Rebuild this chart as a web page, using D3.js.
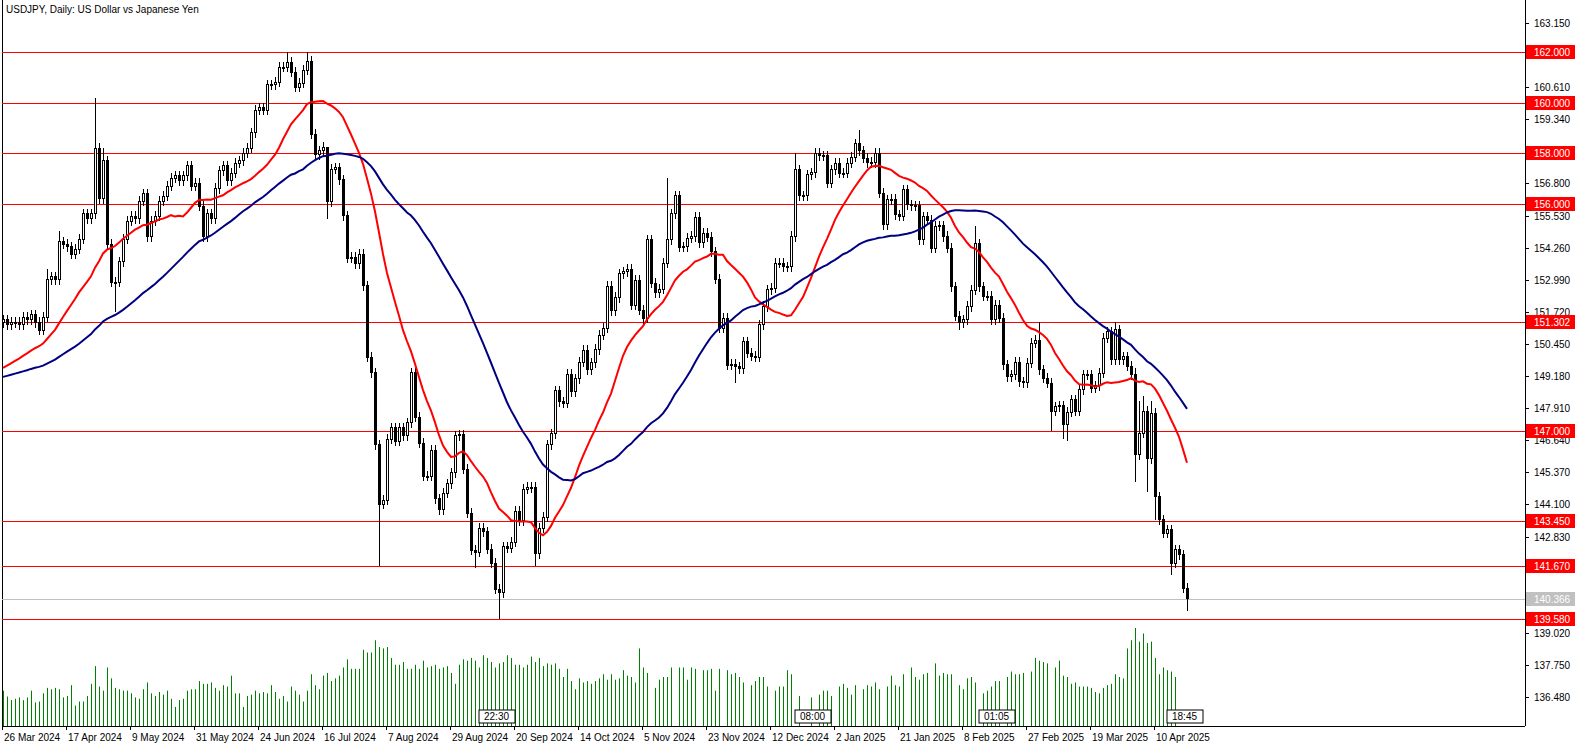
<!DOCTYPE html>
<html><head><meta charset="utf-8">
<script src="https://cdn.jsdelivr.net/npm/d3@7"></script>
<style>body{margin:0;background:#fff}svg{display:block}text{font-family:"Liberation Sans",Arial,sans-serif;font-size:10px}</style>
</head><body><svg id="c" width="1586" height="750"></svg>
<script>
const closes=[151.4,151.2,151.3,151.3,151.2,151.5,151.4,151.6,151.3,151.0,151.5,
153.0,153.1,153.0,154.5,154.4,154.3,154.0,154.2,154.6,155.6,155.4,155.6,
158.2,156.2,157.7,154.4,152.9,152.9,153.7,154.6,155.3,155.5,155.4,156.1,156.4,
154.7,155.3,155.5,156.1,156.3,156.7,157.0,157.1,156.9,157.1,157.5,156.7,156.8,
155.9,154.7,155.6,155.4,156.6,157.3,157.5,156.9,157.2,157.6,157.7,158.0,158.2,
158.8,159.7,159.8,159.7,160.7,160.7,160.8,161.4,161.4,161.6,161.2,160.6,
160.77,161.28,161.63,158.75,157.94,158.09,158.24,156.07,157.36,157.43,156.95,155.53,153.85,153.88,153.63,153.99,152.75,149.92,149.31,146.46,144.11,144.26,146.68,147.14,146.6,147.14,146.82,147.33,149.31,147.55,146.53,145.21,145.21,146.24,144.33,143.9,144.55,144.92,145.36,146.82,146.85,145.5,143.75,142.29,142.21,143.16,143.02,142.32,141.77,140.75,140.6,142.43,142.36,142.61,143.82,143.45,144.7,144.77,144.77,142.14,143.16,143.6,
146.46,146.9,148.6,148.16,148.1,149.26,148.56,149.08,149.72,150.21,149.44,149.7,150.23,150.8,151.07,152.74,151.77,152.29,153.22,153.31,153.4,151.99,152.98,151.79,151.46,154.57,152.85,152.48,152.61,153.64,154.57,155.6,156.31,154.28,154.3,154.63,154.7,155.46,154.46,154.83,154.67,154.1,153.01,151.07,151.46,149.61,149.64,149.55,149.48,150.54,150.08,149.97,149.93,151.2,151.93,152.59,152.65,153.64,153.64,153.5,153.5,154.7,157.34,156.31,156.31,157.14,157.23,158.0,157.9,157.9,156.81,157.34,157.6,157.2,157.2,157.6,157.84,158.37,158.1,
157.8,157.63,157.63,158.0,156.42,155.16,156.15,156.18,155.56,155.5,156.55,155.96,155.92,155.92,154.57,155.49,155.34,154.24,155.1,155.12,154.7,154.24,152.72,151.54,151.3,151.4,151.93,152.57,154.41,152.72,152.33,152.33,151.4,151.99,151.47,149.62,149.16,149.23,149.72,148.96,148.92,149.69,150.48,150.59,149.43,149.1,148.9,147.78,147.97,148.0,147.25,147.74,148.24,147.78,148.63,149.23,149.23,148.7,148.79,149.29,150.68,150.94,149.82,151.01,149.82,149.95,149.56,149.23,146.06,146.92,147.78,145.9,147.71,144.41,143.49,142.96,143.1,141.77,142.3,142.1,140.78,140.37];
const firstOpen=151.3;
const highOverrides={11:153.4,14:154.9,23:160.2,25:158.2,62:159.0,71:162.0,76:162.0,81:157.0,166:157.0,198:158.0,214:158.9,243:155.1,259:151.3,278:151.3,283:149.5,284:148.2,285:148.4,287:148.2};
const lowOverrides={10:150.8,28:151.7,36:154.5,81:155.4,94:141.67,118:141.6,124:139.58,133:141.67,160:151.2,183:148.9,239:151.0,262:147.0,265:146.7,266:146.6,283:145.0,286:144.6,288:143.5,292:141.3,296:139.9};
const volumes=[78,65,57,60,63,57,63,78,52,54,72,84,81,84,81,63,66,90,45,54,54,66,93,132,87,78,129,105,84,81,78,78,72,63,60,81,96,72,66,75,69,78,60,42,57,60,78,81,81,99,93,93,96,84,78,90,87,111,72,72,42,66,69,78,72,75,72,90,75,60,66,54,87,78,69,54,78,114,90,81,111,117,99,105,111,129,147,126,126,126,168,162,162,189,174,171,174,150,135,135,141,126,126,135,126,144,129,132,135,126,129,132,117,93,135,147,144,150,144,129,156,150,141,129,138,141,156,150,135,135,129,135,153,141,150,132,138,135,138,126,108,126,99,81,105,96,99,93,
99,105,114,102,114,102,105,123,111,108,96,171,129,117,0,84,102,108,108,129,0,129,129,102,129,126,0,123,123,126,78,126,0,123,114,117,108,96,0,90,99,108,108,87,0,78,87,87,123,114,0,66,0,0,63,0,69,78,78,66,0,87,93,84,69,90,0,81,90,87,96,81,0,87,111,90,87,114,0,129,108,102,114,117,0,138,111,117,114,114,0,90,81,105,108,96,0,72,78,87,99,99,0,108,120,114,114,117,0,120,150,144,141,138,0,129,144,111,108,93,96,87,87,87,84,75,72,84,90,93,114,108,105,171,189,216,186,204,183,186,150,114,129,123,120,108];
const dateLabels=["26 Mar 2024","17 Apr 2024","9 May 2024","31 May 2024","24 Jun 2024","16 Jul 2024","7 Aug 2024","29 Aug 2024","20 Sep 2024","14 Oct 2024","5 Nov 2024","23 Nov 2024","12 Dec 2024","2 Jan 2025","21 Jan 2025","8 Feb 2025","27 Feb 2025","19 Mar 2025","10 Apr 2025"];
const priceTicks=[136.48,137.75,139.02,142.83,144.10,145.37,146.64,147.91,149.18,150.45,151.72,152.99,154.26,155.53,156.80,159.34,160.61,163.15];
const levels=[162.0,160.0,158.0,156.0,151.302,147.0,143.45,141.67,139.58];
const lastPrice=140.366;
const markers=[{bar:124,text:"22:30"},{bar:203,text:"08:00"},{bar:249,text:"01:05"},{bar:296,text:"18:45"}];
const fastPeriod=20, slowPeriod=50, fastSeed=149.4, slowSeed=149.1;

const N=closes.length;
const bars=closes.map((c,i)=>{const o=i?closes[i-1]:firstOpen;
 return {i,o,c,h:highOverrides[i]??Math.max(o,c)+0.2,l:lowOverrides[i]??Math.min(o,c)-0.2,v:volumes[i]||0};});
function sma(p,seed){const pad=Array(p).fill(seed).concat(closes);
 return closes.map((c,i)=>d3.mean(pad.slice(i+1,i+p+1)));}
const fast=sma(fastPeriod,fastSeed), slow=sma(slowPeriod,slowSeed);

const svg=d3.select("#c");
const W=1525,B=726;
const x=d3.scaleLinear().domain([0,N-1]).range([3,3+4*(N-1)]);
const y=d3.scaleLinear().domain([136.48,163.15]).range([697,23]);
const yv=d3.scaleLinear().domain([0,216]).range([B,B-98]);

svg.append("line").attr("x1",2.5).attr("x2",2.5).attr("y1",0).attr("y2",B).attr("stroke","#000");
svg.append("line").attr("x1",W+.5).attr("x2",W+.5).attr("y1",0).attr("y2",B).attr("stroke","#000");
svg.append("line").attr("x1",2).attr("x2",W).attr("y1",B+.5).attr("y2",B+.5).attr("stroke","#000");

svg.append("g").selectAll("line").data(bars.filter(d=>d.v>0)).join("line")
 .attr("x1",d=>Math.round(x(d.i))+.5).attr("x2",d=>Math.round(x(d.i))+.5)
 .attr("y1",B).attr("y2",d=>yv(d.v)).attr("stroke","#008000");

svg.append("line").attr("x1",2).attr("x2",W).attr("y1",Math.round(y(lastPrice))+.5).attr("y2",Math.round(y(lastPrice))+.5).attr("stroke","#c0c0c0");
svg.append("g").selectAll("line").data(levels).join("line")
 .attr("x1",2).attr("x2",W).attr("y1",d=>Math.round(y(d))+.5).attr("y2",d=>Math.round(y(d))+.5).attr("stroke","#ff0000");

const g=svg.append("g").attr("shape-rendering","crispEdges");
g.selectAll(".w").data(bars).join("line")
 .attr("x1",d=>Math.round(x(d.i))+.5).attr("x2",d=>Math.round(x(d.i))+.5)
 .attr("y1",d=>y(d.h)).attr("y2",d=>y(d.l)).attr("stroke","#000");
g.selectAll(".b").data(bars).join("rect")
 .attr("x",d=>Math.round(x(d.i))-1+.5).attr("width",2)
 .attr("y",d=>y(Math.max(d.o,d.c))).attr("height",d=>Math.max(1,Math.abs(y(d.o)-y(d.c))))
 .attr("fill",d=>d.c>=d.o?"#fff":"#000").attr("stroke","#000");

const ln=d3.line().x((d,i)=>x(i)).y(d=>y(d));
svg.append("path").attr("d",ln(fast)).attr("fill","none").attr("stroke","#ff0000").attr("stroke-width",2);
svg.append("path").attr("d",ln(slow)).attr("fill","none").attr("stroke","#000080").attr("stroke-width",2);

const ax=svg.append("g");
ax.selectAll("line").data(priceTicks).join("line").attr("x1",W).attr("x2",W+4)
 .attr("y1",d=>Math.round(y(d))+.5).attr("y2",d=>Math.round(y(d))+.5).attr("stroke","#000");
ax.selectAll("text").data(priceTicks).join("text").attr("x",W+9).attr("y",d=>y(d)+4).text(d=>d.toFixed(3));
const lb=svg.append("g").selectAll("g").data(levels.map(v=>({v,c:"#ff0000"})).concat([{v:lastPrice,c:"#c0c0c0"}])).join("g")
 .attr("transform",d=>`translate(${W+1},${Math.round(y(d.v))})`);
lb.append("rect").attr("x",0).attr("y",-7).attr("width",49).attr("height",14).attr("fill",d=>d.c);
lb.append("text").attr("x",8).attr("y",4).attr("fill","#fff").text(d=>d.v.toFixed(3));

const dt=svg.append("g");
dateLabels.forEach((s,k)=>{const px=Math.round(x(k*16))-1;
 dt.append("line").attr("x1",px+.5).attr("x2",px+.5).attr("y1",B).attr("y2",B+4).attr("stroke","#000");
 dt.append("text").attr("x",px+2).attr("y",741).text(s);});

const mk=svg.append("g").selectAll("g").data(markers).join("g").attr("transform",d=>`translate(${Math.round(x(d.bar))-20},710)`);
mk.append("rect").attr("width",36).attr("height",13).attr("fill","#fff").attr("stroke","#000");
mk.append("text").attr("x",5).attr("y",10).text(d=>d.text);

svg.append("text").attr("x",6).attr("y",13).text("USDJPY, Daily:  US Dollar vs Japanese Yen");
</script></body></html>
